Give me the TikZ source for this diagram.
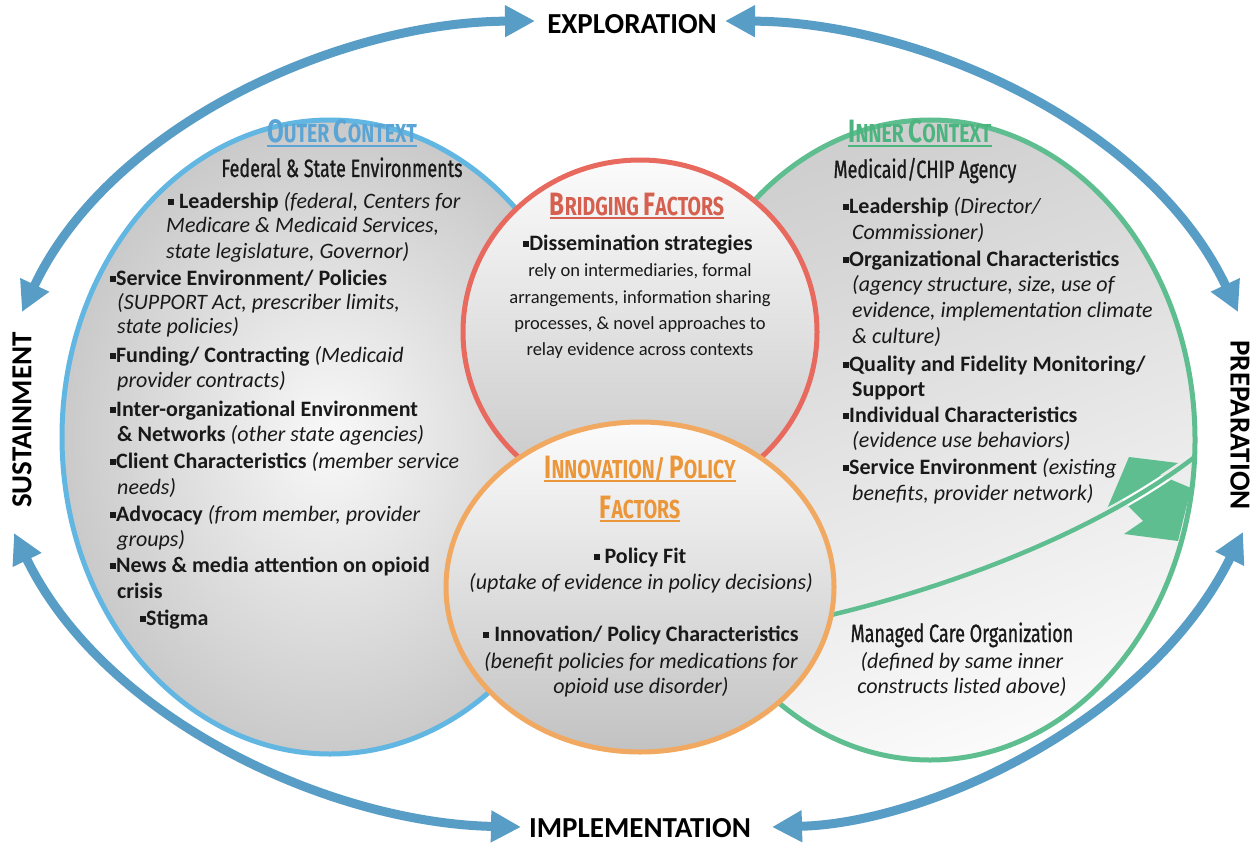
\documentclass[tikz,border=0pt]{standalone}
\usepackage{fontspec}
\setmainfont{Carlito}
\newfontfamily\cond[FakeStretch=0.72,FakeBold=0.8]{Fira Sans}
\newfontfamily\condH[FakeStretch=0.75]{Fira Sans}
\usetikzlibrary{arrows.meta}
\definecolor{arcblue}{RGB}{88,157,197}
\definecolor{outerblue}{RGB}{98,182,226}
\definecolor{bridgered}{RGB}{232,106,94}
\definecolor{innoorange}{RGB}{241,168,96}
\definecolor{innergreen}{RGB}{94,190,143}
\definecolor{hblue}{RGB}{90,165,213}
\definecolor{hred}{RGB}{214,96,80}
\definecolor{horange}{RGB}{236,150,58}
\definecolor{hgreen}{RGB}{76,180,127}
\definecolor{txt}{RGB}{25,25,25}
\newcommand\bul{\raisebox{0.12em}{\rule{0.27em}{0.27em}}}
\newcommand\hc[1]{{\fontsize{32.3}{32}\selectfont #1}}
\tikzset{
  ln/.style={anchor=base west, inner sep=0pt, text=txt, font=\fontsize{22}{25}\selectfont},
  lc/.style={anchor=base, inner sep=0pt, text=txt, font=\fontsize{22}{25}\selectfont},
  lcs/.style={anchor=base, inner sep=0pt, text=txt, font=\fontsize{18.5}{22}\selectfont},
  stage/.style={inner sep=0pt, text=black, font=\fontsize{29}{30}\selectfont\bfseries},
  head/.style={anchor=base, inner sep=0pt, font=\condH\bfseries\fontsize{26}{28}\selectfont},
  sub/.style={anchor=base, inner sep=0pt, text=txt, font=\cond\fontsize{25}{27}\selectfont},
  cyc/.style={arcblue, line width=9pt, {Triangle[length=30pt,width=30pt]}-{Triangle[length=30pt,width=30pt]}},
  rim/.style={line width=5pt},
}
\begin{document}
\begin{tikzpicture}[x=1pt,y=-1pt]
\useasboundingbox (0,0) rectangle (1260,845);
\fill[white] (0,0) rectangle (1260,845);

% ---------- outer context ----------
\shade[inner color=gray!5, outer color=gray!42] (330,437) ellipse [x radius=268pt, y radius=317pt];
\draw[rim, outerblue] (330,437) ellipse [x radius=268pt, y radius=317pt];

% ---------- inner context ----------
\shade[top color=gray!38, bottom color=gray!4, shading angle=20] (930,440) ellipse [x radius=265pt, y radius=320pt];
\path (1129,457) coordinate (g1) (1178,463) coordinate (g2) (1160,475) coordinate (g3)
      (1191,488) coordinate (g4) (1178,541) coordinate (g5) (1124,534) coordinate (g6)
      (1143,521) coordinate (g7) (1122,500) coordinate (g8) (1107,509) coordinate (g9);
\fill[innergreen] (g1) -- (g2) -- (g3) -- (g4) -- (g5) -- (g6) -- (g7) -- (g8) -- (g9) -- cycle;
\path (800,622) coordinate (d0) (1196,456) coordinate (d1);
\begin{scope}
  \clip (g1) -- (g2) -- (g3) -- (g4) -- (g5) -- (g6) -- (g7) -- (g8) -- (g9) -- cycle;
  \draw[white, line width=9pt] (d0) .. controls (950,590) and (1100,530) .. (d1);
\end{scope}
\draw[innergreen, line width=4.5pt] (d0) .. controls (950,590) and (1100,530) .. (d1);
\draw[rim, innergreen] (930,440) ellipse [x radius=265pt, y radius=320pt];

% ---------- bridging factors ----------
\shade[top color=gray!3, bottom color=gray!45] (640,332) ellipse [x radius=177pt, y radius=172pt];
\draw[rim, bridgered] (640,332) ellipse [x radius=177pt, y radius=172pt];

% ---------- innovation / policy ----------
\shade[top color=gray!3, bottom color=gray!48] (640,587) ellipse [x radius=194pt, y radius=165pt];
\draw[rim, innoorange] (640,587) ellipse [x radius=194pt, y radius=165pt];

% ---------- phase labels and cycle arrows ----------
\node[stage] (exp) at (632,24) {EXPLORATION};
\node[stage] (imp) at (640,828) {IMPLEMENTATION};
\node[stage, rotate=90] (sus) at (22,420) {SUSTAINMENT};
\node[stage, rotate=-90] (prep) at (1240,425) {PREPARATION};
\path (535,21) coordinate (tl1) (22,312) coordinate (tl0)
      (725,21) coordinate (tr0) (1238,312) coordinate (tr1)
      (14,533) coordinate (bl0) (521,827) coordinate (bl1)
      (1243,532) coordinate (br0) (772,827) coordinate (br1);
\draw[cyc] (tl0) .. controls (110,125) and (340,22) .. (tl1);
\draw[cyc] (tr0) .. controls (920,22) and (1150,125) .. (tr1);
\draw[cyc] (bl0) .. controls (105,720) and (330,823) .. (bl1);
\draw[cyc] (br0) .. controls (1150,720) and (930,823) .. (br1);

% ---------- outer context text ----------
\node[head, text=hblue] (hO) at (342,143) {\hc{O}UTER \hc{C}ONTEXT};
\draw[hblue, line width=1.5pt] ([yshift=-3pt]hO.base west) -- ([yshift=-3pt]hO.base east);
\node[sub] (hOs) at (342,177) {Federal \& State Environments};
\node[ln] (o1) at (168,208) {\bul\ \textbf{Leadership} \textit{(federal, Centers for}};
\node[ln] (o2) at (166,233) {\textit{Medicare \& Medicaid Services,}};
\node[ln] (o3) at (166,258) {\textit{state legislature, Governor)}};
\node[ln] (o4) at (110,285) {\bul\textbf{Service Environment/ Policies}};
\node[ln] (o5) at (117,309) {\textit{(SUPPORT Act, prescriber limits,}};
\node[ln] (o6) at (117,333) {\textit{state policies)}};
\node[ln] (o7) at (110,362) {\bul\textbf{Funding/ Contracting} \textit{(Medicaid}};
\node[ln] (o8) at (117,387) {\textit{provider contracts)}};
\node[ln] (o9) at (110,416) {\bul\textbf{Inter-organizational Environment}};
\node[ln] (o10) at (117,441) {\textbf{\& Networks} \textit{(other state agencies)}};
\node[ln] (o11) at (110,468) {\bul\textbf{Client Characteristics} \textit{(member service}};
\node[ln] (o12) at (117,494) {\textit{needs)}};
\node[ln] (o13) at (110,521) {\bul\textbf{Advocacy} \textit{(from member, provider}};
\node[ln] (o14) at (117,546) {\textit{groups)}};
\node[ln] (o15) at (110,572) {\bul\textbf{News \& media attention on opioid}};
\node[ln] (o16) at (117,598) {\textbf{crisis}};
\node[ln] (o17) at (140,625) {\bul\textbf{Stigma}};

% ---------- bridging text ----------
\node[head, text=hred] (hB) at (637,215) {\hc{B}RIDGING \hc{F}ACTORS};
\draw[hred, line width=1.5pt] ([yshift=-3pt]hB.base west) -- ([yshift=-3pt]hB.base east);
\node[lc] (b1) at (638,250) {\bul\textbf{Dissemination strategies}};
\node[lcs] (b2) at (640,276) {rely on intermediaries, formal};
\node[lcs] (b3) at (640,303) {arrangements, information sharing};
\node[lcs] (b4) at (640,329) {processes, \& novel approaches to};
\node[lcs] (b5) at (640,355) {relay evidence across contexts};

% ---------- innovation text ----------
\node[head, text=horange] (hN) at (640,478) {\hc{I}NNOVATION/ \hc{P}OLICY};
\draw[horange, line width=1.5pt] ([yshift=-3pt]hN.base west) -- ([yshift=-3pt]hN.base east);
\node[head, text=horange] (hN2) at (640,518) {\hc{F}ACTORS};
\draw[horange, line width=1.5pt] ([yshift=-3pt]hN2.base west) -- ([yshift=-3pt]hN2.base east);
\node[lc] (n1) at (640,563) {\bul\ \textbf{Policy Fit}};
\node[lc] (n2) at (641,589) {\textit{(uptake of evidence in policy decisions)}};
\node[lc] (n3) at (641,641) {\bul\ \textbf{Innovation/ Policy Characteristics}};
\node[lc] (n4) at (641,668) {\textit{(benefit policies for medications for}};
\node[lc] (n5) at (641,693) {\textit{opioid use disorder)}};

% ---------- inner context text ----------
\node[head, text=hgreen] (hI) at (920,143) {\hc{I}NNER \hc{C}ONTEXT};
\draw[hgreen, line width=1.5pt] ([yshift=-3pt]hI.base west) -- ([yshift=-3pt]hI.base east);
\node[sub] (hIs) at (925,178) {Medicaid/CHIP Agency};
\node[ln] (i1) at (843,213) {\bul\textbf{Leadership} \textit{(Director/}};
\node[ln] (i2) at (852,239) {\textit{Commissioner)}};
\node[ln] (i3) at (843,266) {\bul\textbf{Organizational Characteristics}};
\node[ln] (i4) at (852,291) {\textit{(agency structure, size, use of}};
\node[ln] (i5) at (852,317) {\textit{evidence, implementation climate}};
\node[ln] (i6) at (852,343) {\textit{\& culture)}};
\node[ln] (i7) at (843,371) {\bul\textbf{Quality and Fidelity Monitoring/}};
\node[ln] (i8) at (852,396) {\textbf{Support}};
\node[ln] (i9) at (843,422) {\bul\textbf{Individual Characteristics}};
\node[ln] (i10) at (852,447) {\textit{(evidence use behaviors)}};
\node[ln] (i11) at (843,474) {\bul\textbf{Service Environment} \textit{(existing}};
\node[ln] (i12) at (852,500) {\textit{benefits, provider network)}};
\node[sub] (mco) at (962,642) {Managed Care Organization};
\node[lc] (mco1) at (962,668) {\textit{(defined by same inner}};
\node[lc] (mco2) at (962,693) {\textit{constructs listed above)}};
\end{tikzpicture}
\end{document}
